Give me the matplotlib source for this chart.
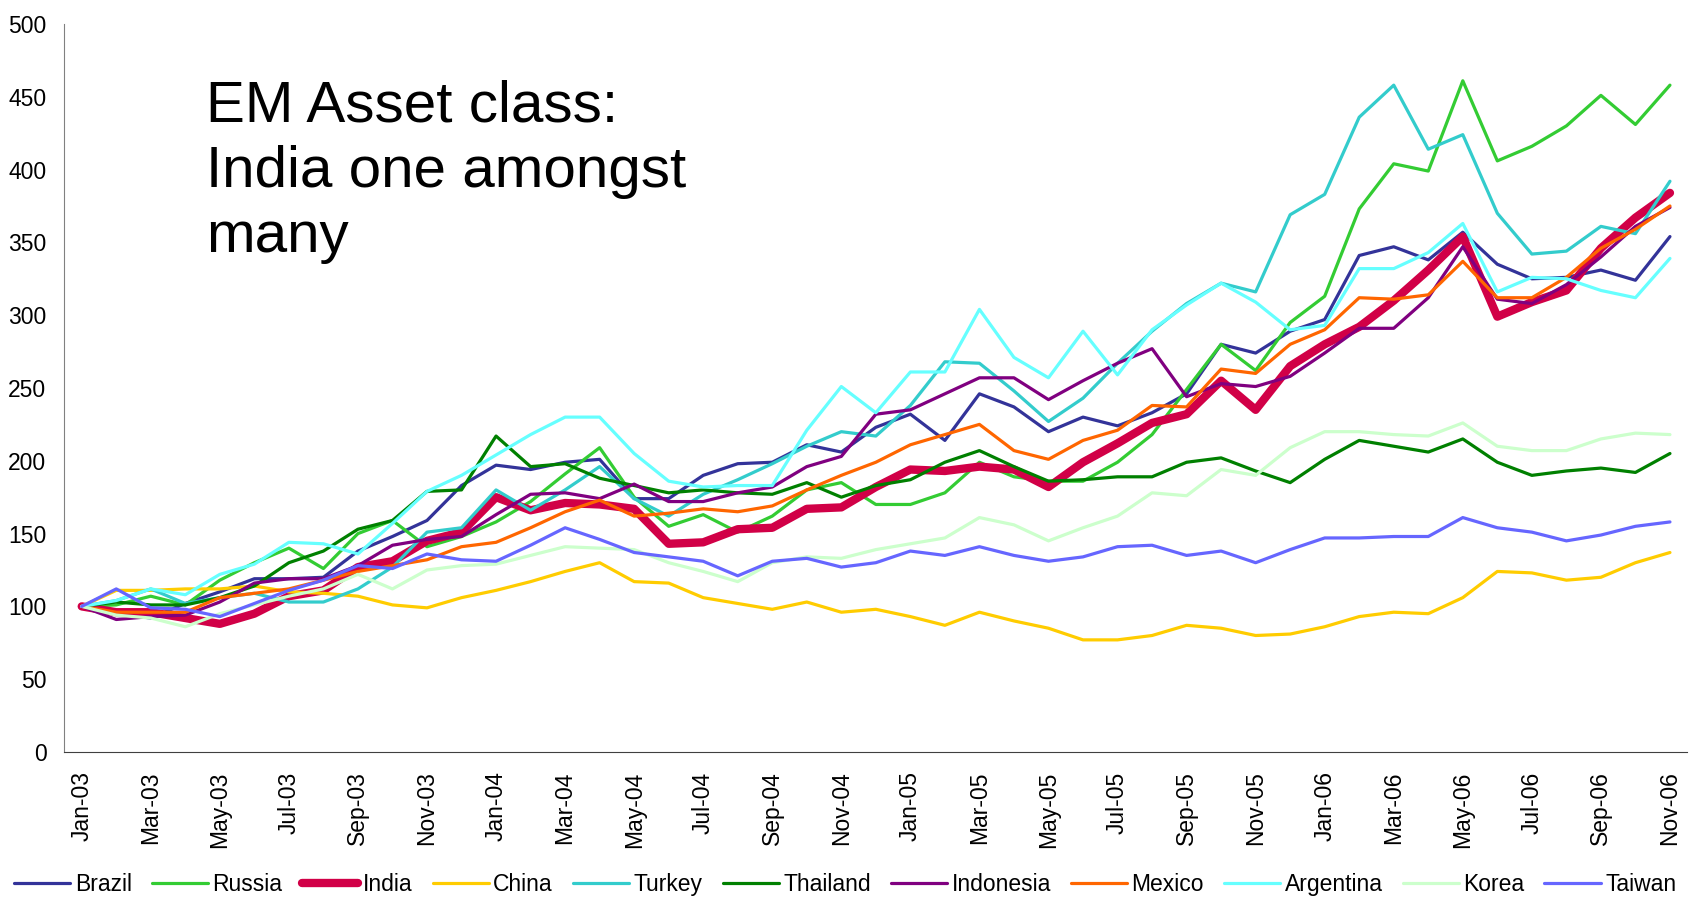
import numpy as np
import pandas as pd
import matplotlib
matplotlib.use("Agg")
import matplotlib.pyplot as plt

plt.rcParams['font.family'] = ['Liberation Sans', 'DejaVu Sans']

# meses de Jan-03 a Nov-06
months = pd.date_range('2003-01-01', periods=47, freq='MS').strftime('%b-%y').tolist()

# valores (base 100 em Jan-03)
brazil = [100, 95, 92, 102, 110, 119, 119, 120, 138, 148, 159, 183, 197, 194, 199, 201,
          174, 174, 190, 198, 199, 211, 206, 223, 232, 214, 246, 237, 220, 230, 224, 233,
          246, 280, 274, 289, 297, 341, 347, 338, 357, 335, 325, 326, 331, 324, 354]
russia = [100, 101, 107, 101, 118, 130, 140, 126, 150, 159, 141, 148, 158, 172, 191, 209,
          175, 155, 163, 151, 162, 180, 185, 170, 170, 178, 199, 189, 186, 186, 199, 218,
          249, 280, 262, 295, 313, 373, 404, 399, 461, 406, 416, 430, 451, 431, 458]
india = [100, 96, 96, 92, 88, 95, 107, 111, 127, 131, 145, 151, 175, 166, 171, 170,
         167, 143, 144, 153, 154, 167, 168, 182, 194, 193, 196, 194, 182, 199, 212, 226,
         232, 255, 235, 265, 280, 292, 310, 331, 354, 299, 309, 317, 346, 367, 384]
china = [100, 111, 111, 112, 112, 114, 110, 109, 107, 101, 99, 106, 111, 117, 124, 130,
         117, 116, 106, 102, 98, 103, 96, 98, 93, 87, 96, 90, 85, 77, 77, 80,
         87, 85, 80, 81, 86, 93, 96, 95, 106, 124, 123, 118, 120, 130, 137]
turkey = [100, 104, 112, 102, 106, 109, 103, 103, 112, 127, 151, 154, 180, 166, 180, 196,
          174, 162, 177, 187, 198, 210, 220, 217, 238, 268, 267, 248, 227, 243, 267, 289,
          308, 322, 316, 369, 383, 436, 458, 414, 424, 370, 342, 344, 361, 356, 392]
thailand = [100, 103, 101, 101, 106, 114, 130, 138, 153, 159, 179, 180, 217, 196, 198, 188,
            183, 178, 180, 178, 177, 185, 175, 183, 187, 199, 207, 196, 186, 187, 189, 189,
            199, 202, 193, 185, 201, 214, 210, 206, 215, 199, 190, 193, 195, 192, 205]
indonesia = [100, 91, 93, 94, 103, 116, 119, 119, 128, 142, 146, 148, 163, 177, 178, 174,
             184, 172, 172, 178, 182, 196, 203, 232, 235, 246, 257, 257, 242, 255, 267, 277,
             244, 253, 251, 258, 274, 291, 291, 312, 347, 311, 308, 321, 340, 361, 374]
mexico = [100, 96, 96, 96, 106, 109, 112, 118, 124, 128, 132, 141, 144, 154, 165, 173,
          162, 164, 167, 165, 169, 180, 190, 199, 211, 218, 225, 207, 201, 214, 221, 238,
          237, 263, 260, 280, 290, 312, 311, 314, 337, 312, 312, 326, 346, 359, 375]
argentina = [100, 104, 112, 108, 122, 129, 144, 143, 136, 157, 179, 190, 204, 218, 230, 230,
             205, 186, 182, 183, 183, 221, 251, 233, 261, 261, 304, 271, 257, 289, 259, 290,
             307, 322, 309, 290, 293, 332, 332, 343, 363, 316, 326, 325, 317, 312, 339]
korea = [100, 94, 92, 86, 95, 101, 107, 112, 122, 112, 125, 128, 129, 135, 141, 140,
         139, 130, 124, 117, 130, 134, 133, 139, 143, 147, 161, 156, 145, 154, 162, 178,
         176, 194, 190, 209, 220, 220, 218, 217, 226, 210, 207, 207, 215, 219, 218]
taiwan = [100, 112, 99, 98, 93, 102, 111, 118, 128, 126, 136, 132, 131, 142, 154, 146,
          137, 134, 131, 121, 131, 133, 127, 130, 138, 135, 141, 135, 131, 134, 141, 142,
          135, 138, 130, 139, 147, 147, 148, 148, 161, 154, 151, 145, 149, 155, 158]

names = ['Brazil', 'Russia', 'India', 'China', 'Turkey', 'Thailand',
         'Indonesia', 'Mexico', 'Argentina', 'Korea', 'Taiwan']
series = [brazil, russia, india, china, turkey, thailand,
          indonesia, mexico, argentina, korea, taiwan]
colors = ['#333399', '#33cc33', '#d10047', '#ffcc00', '#33cccc', '#008000',
          '#800080', '#ff6600', '#66ffff', '#ccffcc', '#6666ff']

fig = plt.figure(figsize=(17.01, 9.06), dpi=100)
ax = fig.add_axes([0.0379, 0.170, 0.954, 0.8035])

x = np.arange(len(months))
for nome, valores, cor in zip(names, series, colors):
    lw = 6 if nome == 'India' else 2.3
    ax.plot(x, valores, color=cor, lw=lw, label=nome, solid_capstyle='round')

# eixos
ax.set_ylim(0, 500)
ax.set_yticks(np.arange(0, 501, 50))
ax.set_xlim(-0.5, 46.5)
ax.set_xticks(x[::2])
ax.set_xticklabels(months[::2], rotation=90)
ax.tick_params(axis='both', length=0, labelsize=16.5)
ax.tick_params(axis='y', pad=13)
ax.tick_params(axis='x', pad=14)
ax.spines['top'].set_visible(False)
ax.spines['right'].set_visible(False)
ax.spines['left'].set_color('#808080')
ax.spines['bottom'].set_color('#404040')

# título dentro do gráfico
fig.text(0.121, 0.912, 'EM Asset class:\nIndia one amongst\nmany',
         fontsize=42, va='top', ha='left', linespacing=1.26)

# legenda numa linha só
fig.legend(loc='center left', bbox_to_anchor=(0.0082, 0.024), ncol=11, frameon=False,
           fontsize=16.5, handlelength=2.45, handletextpad=0.2, columnspacing=0.87,
           borderaxespad=0, borderpad=0)

fig.savefig('out.png', dpi=100)
